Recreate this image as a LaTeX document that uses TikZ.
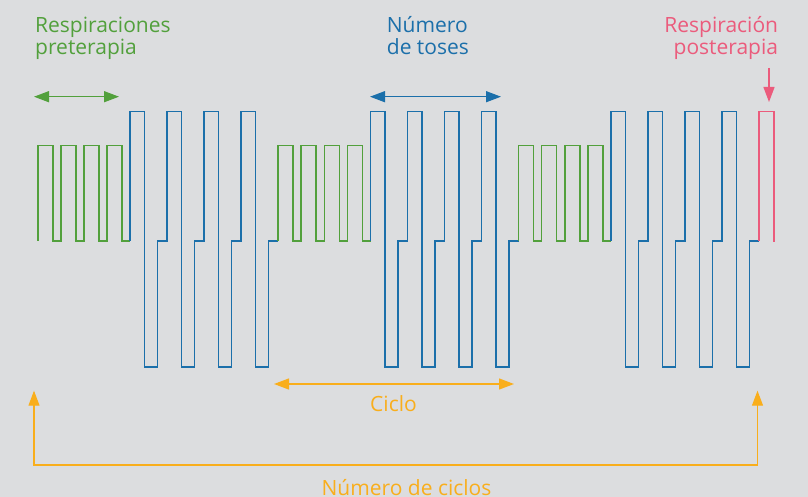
\documentclass[tikz,border=0pt]{standalone}
\usepackage{fontspec}
\setmainfont{Open Sans}
\usetikzlibrary{arrows.meta}
\definecolor{bggrey}{HTML}{DCDDDF}
\definecolor{pregreen}{HTML}{52A03C}
\definecolor{tosblue}{HTML}{1B6FAA}
\definecolor{postred}{HTML}{EB5B7C}
\definecolor{cicorange}{HTML}{F9AE1C}

\begin{document}
\begin{tikzpicture}[x=1pt,y=-1pt]
\tikzset{wave/.style={line width=1.6pt,line join=miter},
            span/.style={line width=1.3pt,{Triangle[length=15pt,width=11pt]}-{Triangle[length=15pt,width=11pt]}},
            txt/.style={inner sep=0pt,font=\fontsize{21}{22.5}\selectfont}}
\fill[bggrey] (0,0) rectangle (808,497);
\useasboundingbox (0,0) rectangle (808,497);
% ciclos: respiraciones + toses
\foreach \c in {37.7,278.1,518.5}{
    \draw[wave,pregreen] (\c,240.7) \foreach \i in {1,...,4}{ -- ++(0,-95) -- ++(15,0) -- ++(0,95) -- ++(8.1,0)};
    \draw[wave,tosblue] (\c+92.4,240.7) \foreach \i in {1,...,4}{ -- ++(0,-129) -- ++(14.5,0) -- ++(0,255) -- ++(13,0) -- ++(0,-126) -- ++(9.5,0)};
}
\draw[wave,postred] (758.9,240.7) -- ++(0,-129) -- ++(15,0) -- ++(0,130);
% textos (base = ultima linea)
\node[txt,pregreen,align=left,anchor=base west] (pre) at (35,55) {Respiraciones\\preterapia};
\node[txt,tosblue,align=left,anchor=base west] (toses) at (386.7,55) {Número\\de toses};
\node[txt,postred,align=right,anchor=base east] (post) at (778.3,55) {Respiración\\posterapia};
\node[txt,cicorange,anchor=base] (ciclo) at (393.5,411.7) {Ciclo};
\node[txt,cicorange,anchor=base] (nciclos) at (406.5,495.7) {Número de ciclos};
% flechas
\coordinate (preL) at (34,96.7);
\coordinate (preR) at (119,96.7);
\coordinate (tosL) at (370,96.7);
\coordinate (tosR) at (501,96.7);
\coordinate (postA) at (769,68);
\coordinate (postB) at (769,102);
\coordinate (cicL) at (274,384);
\coordinate (cicR) at (514,384);
\coordinate (nL) at (34,390.7);
\coordinate (nR) at (757.5,390.7);
\draw[span,pregreen] (preL) -- (preR);
\draw[span,tosblue] (tosL) -- (tosR);
\draw[line width=1.3pt,postred,-{Triangle[length=15pt,width=11pt]}] (postA) -- (postB);
\draw[span,cicorange] (cicL) -- (cicR);
\draw[span,cicorange,line width=1.1pt] (nL) -- (nL |- 0,465) -- (nR |- 0,465) -- (nR);
\end{tikzpicture}
\end{document}
